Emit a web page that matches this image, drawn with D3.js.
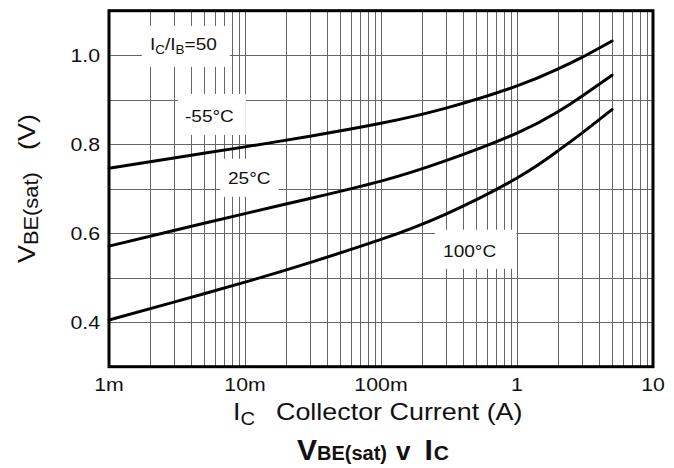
<!DOCTYPE html>
<html>
<head>
<meta charset="utf-8">
<script src="https://cdn.jsdelivr.net/npm/d3@7"></script>
<style>
  body { margin: 0; background: #fff; }
  text { font-family: "Liberation Sans", Arial, sans-serif; fill: #111; }
</style>
</head>
<body>
<script>
// collector current (A) where the curves were read
const icAmps = [0.001, 0.003, 0.01, 0.03, 0.1, 0.3, 1, 2, 3, 5];
// VBE(sat) in volts, one array per temperature
const vbeMinus55 = [0.746, 0.769, 0.794, 0.818, 0.847, 0.881, 0.931, 0.969, 0.995, 1.032];
const vbe25 = [0.571, 0.606, 0.644, 0.678, 0.717, 0.763, 0.825, 0.873, 0.908, 0.955];
const vbe100 = [0.405, 0.445, 0.490, 0.534, 0.586, 0.643, 0.724, 0.785, 0.825, 0.878];

const xTickVals = [0.001, 0.01, 0.1, 1, 10];
const xTickLabels = ["1m", "10m", "100m", "1", "10"];
const yTickVals = [0.4, 0.6, 0.8, 1.0];
const yTickLabels = ["0.4", "0.6", "0.8", "1.0"];

const width = 674, height = 468;
const margin = {top: 10.7, right: 21, bottom: 101.3, left: 109};
const SX = 1.12; // glyphs in the source are a bit wide

const svg = d3.select("body").append("svg")
  .attr("width", width)
  .attr("height", height);

const x = d3.scaleLog()
  .domain([1e-3, 10])
  .range([margin.left, width - margin.right]);

const y = d3.scaleLinear()
  .domain([0.3, 1.1])
  .range([height - margin.bottom, margin.top]);

const stretch = (sel, k) => sel.each(function() {
  const w = this.getComputedTextLength();
  d3.select(this).attr("textLength", w * k).attr("lengthAdjust", "spacingAndGlyphs");
});

// grid
const grid = svg.append("g").attr("stroke", "#666").attr("stroke-width", 1);
grid.selectAll("line.v")
  .data(x.ticks())
  .enter().append("line")
  .attr("class", "v")
  .attr("x1", d => Math.round(x(d)) + 0.5)
  .attr("x2", d => Math.round(x(d)) + 0.5)
  .attr("y1", y.range()[0])
  .attr("y2", y.range()[1]);
grid.selectAll("line.h")
  .data(d3.range(3, 12).map(d => d / 10))
  .enter().append("line")
  .attr("class", "h")
  .attr("x1", x.range()[0])
  .attr("x2", x.range()[1])
  .attr("y1", d => Math.round(y(d)) + 0.5)
  .attr("y2", d => Math.round(y(d)) + 0.5);

// curves
const series = [vbeMinus55, vbe25, vbe100];
const line = d3.line()
  .x(d => x(d[0]))
  .y(d => y(d[1]))
  .curve(d3.curveNatural);

svg.append("g")
  .selectAll("path")
  .data(series)
  .enter().append("path")
  .attr("d", s => line(icAmps.map((ic, i) => [ic, s[i]])))
  .attr("fill", "none")
  .attr("stroke", "#000")
  .attr("stroke-width", 3)
  .attr("stroke-linecap", "round");

// in-plot labels (anchor given in data units) with white boxes behind
const labels = svg.append("g");
const addLabel = (ic, v, build, pad) => {
  const box = labels.append("rect").attr("fill", "#fff");
  const t = labels.append("text")
    .attr("x", x(ic))
    .attr("y", y(v))
    .style("font-size", "17px");
  build(t);
  stretch(t, SX);
  const b = t.node().getBBox();
  box.attr("x", b.x - pad[3]).attr("y", b.y - pad[0])
    .attr("width", b.width + pad[1] + pad[3])
    .attr("height", b.height + pad[0] + pad[2]);
};
addLabel(0.002, 1.012, t => {
  t.append("tspan").text("I");
  t.append("tspan").text("C").style("font-size", "12px").attr("dy", 4);
  t.append("tspan").text("/I").attr("dy", -4);
  t.append("tspan").text("B").style("font-size", "12px").attr("dy", 4);
  t.append("tspan").text("=50").attr("dy", -4);
}, [9, 13, 10, 8]);
addLabel(0.00362, 0.85, t => t.text("-55°C"), [13, 12, 9, 7]);
addLabel(0.0075, 0.711, t => t.text("25°C"), [10, 8, 9, 8]);
addLabel(0.286, 0.547, t => t.text("100°C"), [12, 20, 8, 8]);

// frame
svg.append("rect")
  .attr("x", x.range()[0])
  .attr("y", y.range()[1])
  .attr("width", x.range()[1] - x.range()[0])
  .attr("height", y.range()[0] - y.range()[1])
  .attr("fill", "none")
  .attr("stroke", "#000")
  .attr("stroke-width", 3);

// tick labels
svg.append("g")
  .selectAll("text")
  .data(xTickVals)
  .enter().append("text")
  .attr("x", d => x(d))
  .attr("y", 391)
  .attr("text-anchor", "middle")
  .style("font-size", "19px")
  .text((d, i) => xTickLabels[i])
  .call(stretch, SX);

svg.append("g")
  .selectAll("text")
  .data(yTickVals)
  .enter().append("text")
  .attr("x", 100)
  .attr("y", d => y(d))
  .attr("dy", "0.36em")
  .attr("text-anchor", "end")
  .style("font-size", "19px")
  .text((d, i) => yTickLabels[i])
  .call(stretch, SX);

// x axis title
const xt = svg.append("text").attr("x", 233).attr("y", 420).style("font-size", "24px");
xt.append("tspan").text("I");
xt.append("tspan").text("C").style("font-size", "18px").attr("dy", 5);
stretch(xt, SX);
svg.append("text")
  .attr("x", 276).attr("y", 420)
  .style("font-size", "24px")
  .text("Collector Current (A)")
  .call(stretch, SX);

// y axis title
const yt = svg.append("text")
  .attr("transform", "translate(35,263) rotate(-90)")
  .style("font-size", "24px");
yt.append("tspan").text("V");
yt.append("tspan").text("BE(sat)").style("font-size", "19.5px").attr("dy", 3);
stretch(yt, SX);
svg.append("text")
  .attr("transform", "translate(35,150) rotate(-90)")
  .style("font-size", "24px")
  .text("(V)")
  .call(stretch, SX);

// chart title
const title = svg.append("text")
  .attr("x", 297).attr("y", 460)
  .style("font-weight", "bold")
  .style("font-size", "30px");
title.append("tspan").text("V");
title.append("tspan").text("BE(sat)").style("font-size", "20px");
title.append("tspan").text("v").style("font-size", "26px").attr("dx", 9);
title.append("tspan").text("I").attr("dx", 14);
title.append("tspan").text("C").style("font-size", "21px").attr("dx", 1);
</script>
</body>
</html>
